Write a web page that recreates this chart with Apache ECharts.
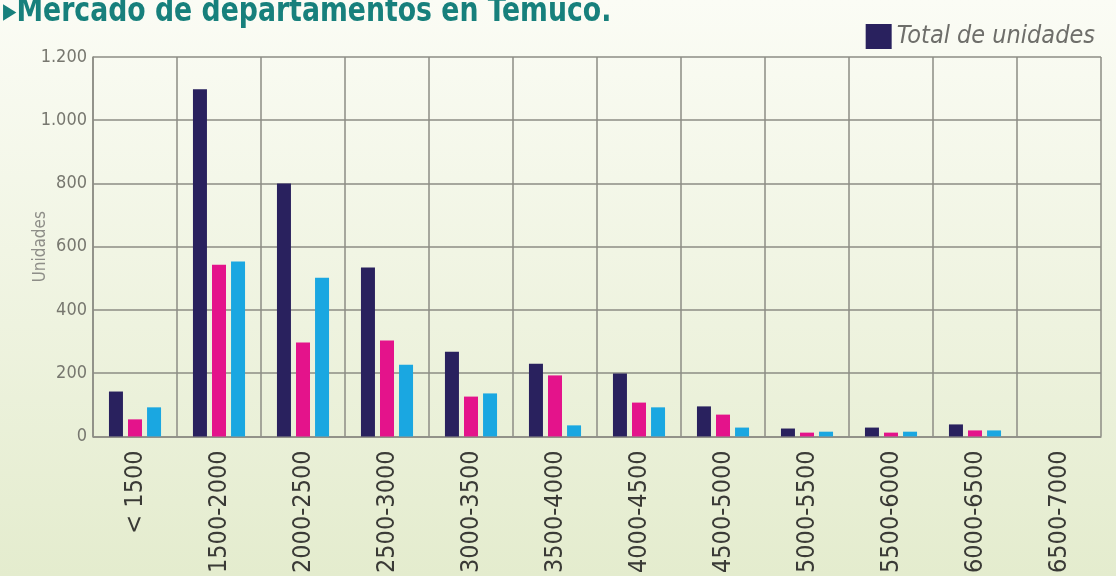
<!DOCTYPE html>
<html>
<head>
<meta charset="utf-8">
<script src="https://cdn.jsdelivr.net/npm/echarts@6/dist/echarts.min.js"></script>
<style>
  html, body { margin: 0; padding: 0; }
  #chart { width: 1116px; height: 576px; }
</style>
</head>
<body>
<div id="chart"></div>
<script>
const categories = ['< 1500', '1500-2000', '2000-2500', '2500-3000', '3000-3500', '3500-4000',
  '4000-4500', '4500-5000', '5000-5500', '5500-6000', '6000-6500', '6500-7000']
const totalUnidades = [142, 1098, 800, 534, 268, 230, 199, 95, 25, 28, 38, 0]
const serieRosa = [54, 543, 297, 303, 126, 193, 107, 69, 12, 12, 19, 0]
const serieCeleste = [92, 553, 502, 227, 136, 35, 92, 28, 15, 15, 19, 0]
const yTicks = [0, 200, 400, 600, 800, 1000, 1200]

const narrow = '"Liberation Sans Narrow", "DejaVu Sans Condensed", sans-serif'
const gridColor = '#8c8c84'

const chart = echarts.init(document.getElementById('chart'))
chart.setOption({
  backgroundColor: {
    type: 'linear', x: 0, y: 0, x2: 0, y2: 1,
    colorStops: [
      { offset: 0, color: '#fbfcf5' },
      { offset: 1, color: '#e4ecce' }
    ]
  },
  animation: false,
  // titulo angosto, se corta arriba como en la imagen
  graphic: [{
    type: 'text',
    x: 3,
    y: -4,
    scaleX: 0.9,
    style: {
      text: '▸Mercado de departamentos en Temuco.',
      fill: '#17807c',
      font: 'bold 33px ' + narrow
    }
  }],
  legend: {
    data: ['Total de unidades'],
    right: 16,
    top: 19,
    itemWidth: 26,
    itemHeight: 25,
    itemGap: 8,
    icon: 'rect',
    textStyle: { color: '#6e6e6a', fontSize: 25, fontStyle: 'italic', fontFamily: narrow }
  },
  grid: { left: 93, right: 15, top: 57, bottom: 139 },
  xAxis: {
    type: 'category',
    data: categories,
    axisLine: { show: true, lineStyle: { color: gridColor, width: 1.5 } },
    axisTick: { show: false },
    splitLine: { show: true, interval: 0, lineStyle: { color: gridColor, width: 1.5 } },
    axisLabel: {
      interval: 0,
      rotate: 90,
      margin: 14,
      color: '#3a3a36',
      fontSize: 25,
      fontFamily: narrow
    }
  },
  yAxis: {
    type: 'value',
    min: 0,
    max: 1200,
    interval: 200,
    name: 'Unidades',
    nameLocation: 'middle',
    nameGap: 44,
    nameMoveOverlap: false,
    nameTextStyle: { color: '#8e8e88', fontSize: 17, fontFamily: narrow },
    axisLine: { show: true, lineStyle: { color: gridColor, width: 1.5 } },
    axisTick: { show: false },
    splitLine: { show: true, lineStyle: { color: gridColor, width: 1.5 } },
    axisLabel: {
      margin: 6,
      color: '#77776f',
      fontSize: 18,
      fontFamily: narrow,
      formatter: v => yTicks.includes(v) ? String(v).replace(/\B(?=(\d{3})+(?!\d))/g, '.') : ''
    }
  },
  series: [
    {
      name: 'Total de unidades',
      type: 'bar',
      data: totalUnidades,
      barWidth: 14,
      barGap: '36%',
      itemStyle: { color: '#29215e' }
    },
    {
      name: 'Rosa',
      type: 'bar',
      data: serieRosa,
      barWidth: 14,
      barGap: '36%',
      itemStyle: { color: '#e4138b' }
    },
    {
      name: 'Celeste',
      type: 'bar',
      data: serieCeleste,
      barWidth: 14,
      barGap: '36%',
      itemStyle: { color: '#1aa7e1' }
    }
  ]
})
</script>
</body>
</html>
